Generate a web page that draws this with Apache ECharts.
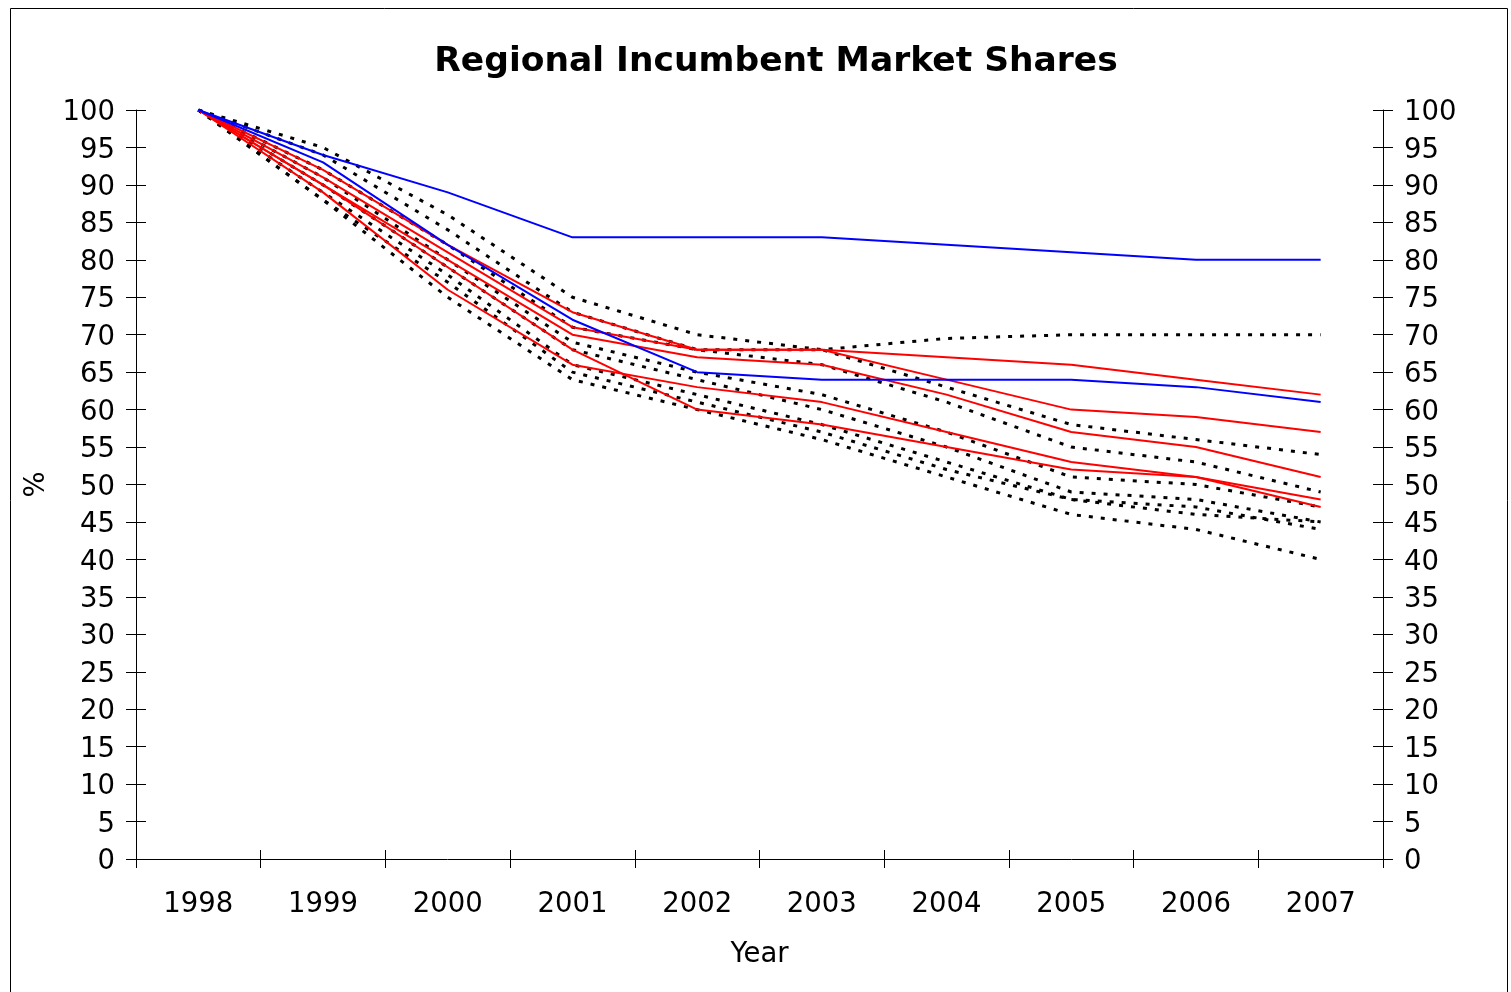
<!DOCTYPE html>
<html>
<head>
<meta charset="utf-8">
<script src="https://cdn.jsdelivr.net/npm/echarts@6/dist/echarts.min.js"></script>
<style>
html,body{margin:0;padding:0;background:#fff;}
#chart{width:1511px;height:992px;}
</style>
</head>
<body>
<div id="chart"></div>
<script>
var years = ['1998','1999','2000','2001','2002','2003','2004','2005','2006','2007'];
var yTicks = [0,5,10,15,20,25,30,35,40,45,50,55,60,65,70,75,80,85,90,95,100];

var blue1 = [100, 94, 89, 83, 83, 83, 82, 81, 80, 80];
var blue2 = [100, 93, 82, 72, 65, 64, 64, 64, 63, 61];

var red1 = [100, 92, 82, 73, 68, 68, 67, 66, 64, 62];
var red2 = [100, 91, 81, 71, 68, 68, 64, 60, 59, 57];
var red3 = [100, 90, 80, 70, 67, 66, 62, 57, 55, 51];
var red4 = [100, 90, 79, 68, 60, 58, 55, 52, 51, 47];
var red5 = [100, 89, 76, 66, 63, 61, 57, 53, 51, 48];

var dot1 = [100, 95, 86, 75, 70, 68, 69.5, 70, 70, 70];
var dot2 = [100, 94, 84, 73, 68, 68, 63, 58, 56, 54];
var dot3 = [100, 92, 82, 71, 68, 66, 61, 55, 53, 49];
var dot4 = [100, 91, 80, 69, 65, 62, 57, 51, 50, 47];
var dot5 = [100, 90, 79, 68, 64, 60, 55, 49, 48, 45];
var dot6 = [100, 89, 78, 66, 62, 58, 53, 48, 47, 44];
var dot7 = [100, 88, 77, 65, 61, 57, 52, 48, 46, 45];
var dot8 = [100, 88, 75, 64, 60, 56, 51, 46, 44, 40];

var FONT = 'DejaVu Sans';
var FS = 27.5;
var chart = echarts.init(document.getElementById('chart'), null, {renderer:'canvas'});

function line(data, color, dotted) {
  return {
    type: 'line', data: data, xAxisIndex: 0, yAxisIndex: 0,
    symbol: 'none', silent: true, animation: false,
    lineStyle: dotted ? {color: '#000', width: 3, type: [4, 8]} : {color: color, width: 2}
  };
}

var baseY = {
  type: 'value', min: 0, max: 100, interval: 5,
  axisLine: {show: true, lineStyle: {color: '#000', width: 1}},
  splitLine: {show: false},
  axisLabel: {
    fontFamily: FONT, fontSize: FS, color: '#000', margin: 21,
    formatter: function (v) { return '{a|' + v + '}'; },
    rich: {a: {fontFamily: FONT, fontSize: FS, color: '#000', padding: [6, 0, 0, 0]}}
  }
};

var option = {
  backgroundColor: '#fff',
  animation: false,
  title: {
    text: 'Regional Incumbent Market Shares',
    left: 771, top: 40, textAlign: 'center',
    textStyle: {fontFamily: FONT, fontSize: 34.5, fontWeight: 'bold', color: '#000'}
  },
  grid: {left: 136, right: 128, top: 110, bottom: 133},
  xAxis: [{
    type: 'category', data: years, boundaryGap: true, position: 'bottom',
    name: 'Year', nameLocation: 'middle', nameGap: 82,
    nameTextStyle: {fontFamily: FONT, fontSize: FS, color: '#000'},
    axisLine: {show: true, lineStyle: {color: '#000', width: 1}},
    axisTick: {show: true, inside: false, length: 9, alignWithLabel: false, lineStyle: {color: '#000'}},
    axisLabel: {fontFamily: FONT, fontSize: FS, color: '#000', margin: 32, interval: 0},
    splitLine: {show: false}
  }, {
    type: 'category', data: years, boundaryGap: true, position: 'bottom', gridIndex: 0,
    axisLine: {show: false},
    axisTick: {show: true, inside: true, length: 9, lineStyle: {color: '#000'}},
    axisLabel: {show: false}, splitLine: {show: false}
  }],
  yAxis: [
    Object.assign({}, baseY, {
      position: 'left',
      name: '%', nameLocation: 'middle', nameGap: 85, nameRotate: 90,
      nameTextStyle: {fontFamily: FONT, fontSize: FS, color: '#000'},
      axisTick: {show: true, inside: false, length: 10, lineStyle: {color: '#000'}}
    }),
    Object.assign({}, baseY, {
      position: 'right',
      axisTick: {show: true, inside: false, length: 10, lineStyle: {color: '#000'}}
    }),
    Object.assign({}, baseY, {
      position: 'left', axisLabel: {show: false}, axisLine: {show: false},
      axisTick: {show: true, inside: true, length: 10, lineStyle: {color: '#000'}}
    }),
    Object.assign({}, baseY, {
      position: 'right', axisLabel: {show: false}, axisLine: {show: false},
      axisTick: {show: true, inside: true, length: 10, lineStyle: {color: '#000'}}
    })
  ],
  graphic: [{
    type: 'rect', silent: true, z: -1,
    shape: {x: 10.5, y: 8.5, width: 1497, height: 1000},
    style: {fill: null, stroke: '#000', lineWidth: 1}
  }],
  series: [
    line(dot1, null, true), line(dot2, null, true), line(dot3, null, true), line(dot4, null, true),
    line(dot5, null, true), line(dot6, null, true), line(dot7, null, true), line(dot8, null, true),
    line(red1, '#ff0000'), line(red2, '#ff0000'), line(red3, '#ff0000'), line(red4, '#ff0000'), line(red5, '#ff0000'),
    line(blue1, '#0000ff'), line(blue2, '#0000ff')
  ]
};
chart.setOption(option);
</script>
</body>
</html>
